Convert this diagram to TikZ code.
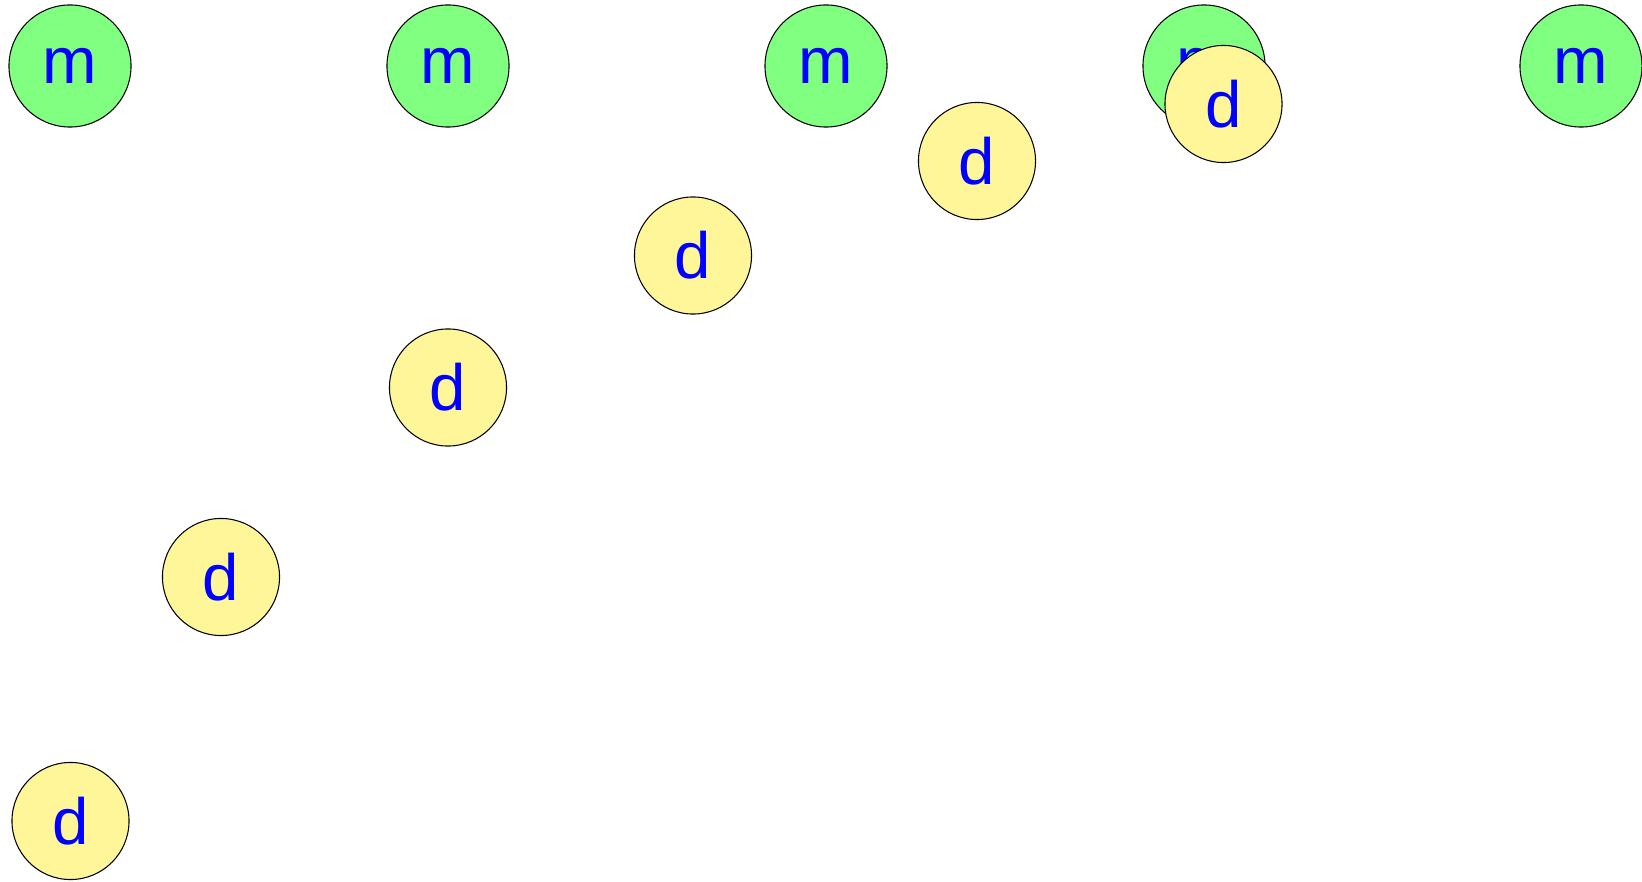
\documentclass[tikz,border=0pt]{standalone}
\usepackage{fontspec}
\setmainfont{Liberation Sans}
\definecolor{mgreen}{RGB}{128,255,128}
\definecolor{dyellow}{RGB}{255,246,153}
\begin{document}
\begin{tikzpicture}[x=0.01cm, y=-0.01cm, every node/.style={circle, draw, line width=0.3pt, inner sep=0pt, text=blue, font=\fontsize{18.6}{22}\selectfont}, mnode/.style={fill=mgreen, minimum size=1.22cm}, dnode/.style={fill=dyellow, minimum size=1.17cm}]
		\useasboundingbox (0,0) rectangle (1642,882);
		\node[mnode] (m1) at (70, 66) {m};
		\node[mnode] (m2) at (448, 66) {m};
		\node[mnode] (m3) at (826, 66) {m};
		\node[mnode] (m4) at (1204, 66) {m};
		\node[mnode] (m5) at (1581, 66) {m};
		\node[dnode] (d1) at (70.5, 821) {d};
		\node[dnode] (d2) at (221, 577) {d};
		\node[dnode] (d3) at (448, 387.5) {d};
		\node[dnode] (d4) at (693, 255.5) {d};
		\node[dnode] (d5) at (977, 161) {d};
		\node[dnode] (d6) at (1223.5, 104) {d};
	\end{tikzpicture}
\end{document}
